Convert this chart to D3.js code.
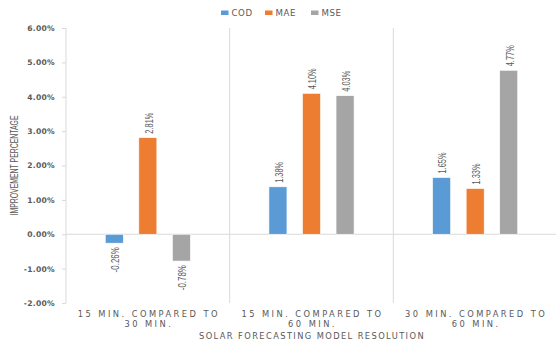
<!DOCTYPE html>
<html>
<head>
<meta charset="utf-8">
<script src="https://cdn.jsdelivr.net/npm/d3@7/dist/d3.min.js"></script>
<style>
  html, body { margin: 0; padding: 0; background: #fff; }
  svg { display: block; }
  .wide { font-family: "DejaVu Sans", Verdana, sans-serif; fill: #595959; }
  .narrow { font-family: "Liberation Sans", Arial, sans-serif; fill: #595959; }
</style>
</head>
<body>
<svg id="chart" width="556" height="341"></svg>
<script>
// Improvement percentages per forecasting resolution comparison
const categories = [
  ["15 MIN. COMPARED TO", "30 MIN."],
  ["15 MIN. COMPARED TO", "60 MIN."],
  ["30 MIN. COMPARED TO", "60 MIN."]
];
const seriesNames = ["COD", "MAE", "MSE"];
const codValues = [-0.26, 1.38, 1.65];
const maeValues = [2.81, 4.10, 1.33];
const mseValues = [-0.78, 4.03, 4.77];
const yTicks = [-2, -1, 0, 1, 2, 3, 4, 5, 6];
const seriesColors = ["#5B9BD5", "#ED7D31", "#A5A5A5"];

const seriesValues = [codValues, maeValues, mseValues];
const svg = d3.select("#chart");

const margin = { left: 66, top: 28 };
const width = 556;

const x0 = d3.scaleBand()
  .domain(d3.range(categories.length))
  .range([margin.left, 557])
  .paddingInner(0).paddingOuter(0);

const x1 = d3.scaleBand()
  .domain(seriesNames)
  .range([0, x0.bandwidth()])
  .paddingInner(0.463)
  .paddingOuter(1.17);

const y = d3.scaleLinear()
  .domain([-2, 6])
  .range([303, 28]);

const fmt = v => v.toFixed(2) + "%";

// Y axis line
svg.append("line")
  .attr("x1", margin.left).attr("x2", margin.left)
  .attr("y1", y(6)).attr("y2", y(-2))
  .attr("stroke", "#d9d9d9").attr("stroke-width", 1);

const yAxis = d3.axisLeft(y).tickValues(yTicks).tickFormat(d => d.toFixed(2) + "%").tickSize(4).tickPadding(7);
const yg = svg.append("g").attr("transform", `translate(${margin.left},0)`).call(yAxis);
yg.select(".domain").remove();
yg.selectAll(".tick line").attr("stroke", "#d9d9d9");
yg.selectAll(".tick text")
  .attr("class", "wide")
  .style("font-size", "7.6px")
  .style("font-weight", "bold")
  .style("letter-spacing", "0.3px")
  .attr("fill", "#595959");

// Category separators
categories.forEach((c, i) => {
  if (i === 0) return;
  svg.append("line")
    .attr("x1", x0(i)).attr("x2", x0(i))
    .attr("y1", y(6)).attr("y2", y(-2))
    .attr("stroke", "#d9d9d9").attr("stroke-width", 1);
});

// Zero line
svg.append("line")
  .attr("x1", margin.left).attr("x2", width)
  .attr("y1", y(0)).attr("y2", y(0))
  .attr("stroke", "#d9d9d9").attr("stroke-width", 1);

// Bars and value labels
const groups = svg.selectAll("g.cat")
  .data(categories.map((c, i) => i))
  .join("g")
  .attr("class", "cat")
  .attr("transform", i => `translate(${x0(i)},0)`);

groups.each(function(ci) {
  const g = d3.select(this);
  const items = seriesNames.map((s, si) => ({ s, si, v: seriesValues[si][ci] }));
  g.selectAll("rect")
    .data(items)
    .join("rect")
    .attr("x", d => x1(d.s))
    .attr("width", x1.bandwidth())
    .attr("y", d => y(Math.max(0, d.v)))
    .attr("height", d => Math.abs(y(d.v) - y(0)))
    .attr("fill", d => seriesColors[d.si])
    .attr("stroke", "#ffffff")
    .attr("stroke-width", 0.6);

  // condensed, rotated value labels
  g.selectAll("text.val")
    .data(items)
    .join("text")
    .attr("class", "val narrow")
    .style("font-size", "10.5px")
    .attr("text-anchor", d => d.v >= 0 ? "start" : "end")
    .attr("transform", d => {
      const cx = x1(d.s) + x1.bandwidth() / 2 + 1;
      const yy = d.v >= 0 ? y(d.v) - 4 : y(d.v) + 4;
      return `translate(${cx},${yy}) rotate(-90)`;
    })
    .attr("dy", "0.36em")
    .attr("textLength", d => fmt(d.v).length * 4.2)
    .attr("lengthAdjust", "spacingAndGlyphs")
    .text(d => fmt(d.v));
});

// Category labels (two lines each)
categories.forEach((lines, i) => {
  const cx = x0(i) + x0.bandwidth() / 2;
  lines.forEach((ln, li) => {
    svg.append("text")
      .attr("class", "wide")
      .attr("x", cx + 1)
      .attr("y", 317 + li * 10.3)
      .attr("text-anchor", "middle")
      .style("font-size", "8.3px")
      .style("letter-spacing", "2.45px")
      .text(ln);
  });
});

// X axis title
svg.append("text")
  .attr("class", "wide")
  .attr("x", 312)
  .attr("y", 339)
  .attr("text-anchor", "middle")
  .style("font-size", "8.3px")
  .style("letter-spacing", "1.4px")
  .text("SOLAR FORECASTING MODEL RESOLUTION");

// Y axis title (condensed)
svg.append("text")
  .attr("class", "narrow")
  .attr("transform", `translate(14,${(y(6) + y(-2)) / 2}) rotate(-90)`)
  .attr("text-anchor", "middle")
  .attr("dy", "0.36em")
  .style("font-size", "10.5px")
  .attr("textLength", 100)
  .attr("lengthAdjust", "spacingAndGlyphs")
  .text("IMPROVEMENT PERCENTAGE");

// Legend
const legendX = [221, 265, 311];
seriesNames.forEach((s, i) => {
  svg.append("rect")
    .attr("x", legendX[i]).attr("y", 10.5)
    .attr("width", 7.5).attr("height", 4.5)
    .attr("fill", seriesColors[i]);
  svg.append("text")
    .attr("class", "wide")
    .attr("x", legendX[i] + 10.5)
    .attr("y", 16)
    .style("font-size", "8.6px")
    .style("letter-spacing", "0.6px")
    .text(s);
});
</script>
</body>
</html>
